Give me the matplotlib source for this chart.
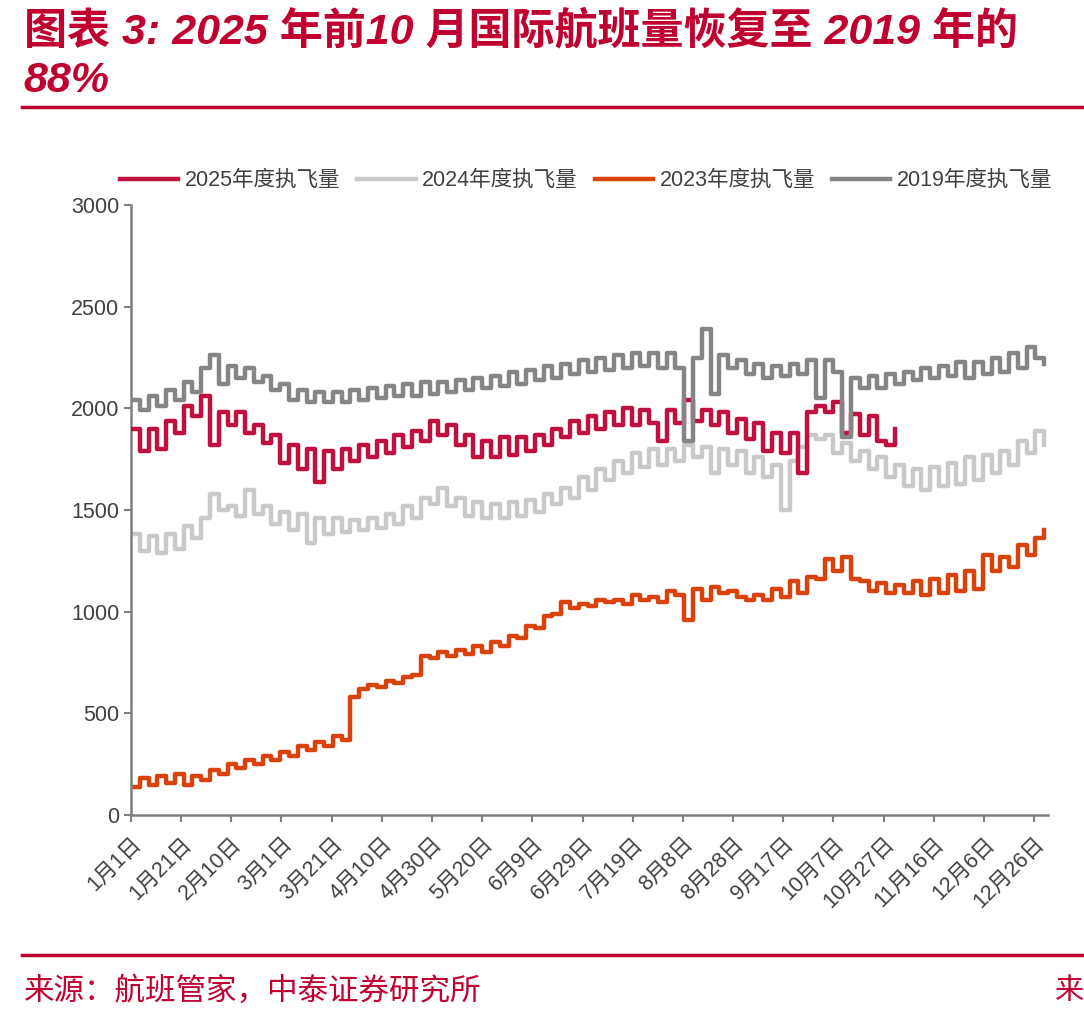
import numpy as np
import matplotlib
matplotlib.use("Agg")
import matplotlib.pyplot as plt

plt.rcParams['font.family'] = ['Liberation Sans', 'Noto Sans CJK SC', 'DejaVu Sans']

RED = '#C0002F'

# values read every 3.5 days from the chart
step = 3.5
y2025 = [1900, 1790, 1900, 1800, 1940, 1880, 2010, 1960, 2060, 1820,
         1980, 1920, 1980, 1880, 1920, 1830, 1870, 1730, 1820, 1700,
         1800, 1640, 1790, 1700, 1800, 1740, 1820, 1760, 1840, 1780,
         1870, 1810, 1890, 1840, 1940, 1870, 1920, 1820, 1870, 1760,
         1840, 1760, 1860, 1770, 1860, 1790, 1870, 1820, 1900, 1860,
         1940, 1880, 1960, 1900, 1980, 1920, 2000, 1920, 1990, 1930,
         1840, 1990, 1930, 2040, 1940, 1990, 1920, 1980, 1880, 1950,
         1850, 1930, 1790, 1880, 1780, 1880, 1680, 1980, 2010, 1980,
         2030, 1880, 1970, 1870, 1960, 1840, 1820, 1900]
y2024 = [1380, 1300, 1370, 1290, 1380, 1310, 1420, 1360, 1460, 1580,
         1500, 1520, 1470, 1600, 1480, 1520, 1430, 1490, 1400, 1480,
         1340, 1460, 1380, 1460, 1390, 1450, 1400, 1460, 1410, 1480,
         1430, 1520, 1460, 1560, 1530, 1610, 1520, 1560, 1470, 1540,
         1460, 1530, 1460, 1540, 1470, 1550, 1490, 1580, 1530, 1610,
         1560, 1660, 1600, 1700, 1650, 1740, 1680, 1780, 1710, 1800,
         1720, 1800, 1740, 1820, 1760, 1810, 1680, 1800, 1720, 1790,
         1680, 1760, 1660, 1720, 1500, 1740, 1810, 1870, 1850, 1870,
         1780, 1830, 1740, 1790, 1700, 1760, 1660, 1720, 1620, 1700,
         1600, 1710, 1620, 1730, 1630, 1760, 1650, 1770, 1680, 1790,
         1720, 1840, 1780, 1890, 1820]
y2023 = [140, 180, 150, 190, 160, 200, 150, 190, 170, 220,
         200, 250, 230, 270, 250, 290, 270, 310, 290, 340,
         320, 360, 340, 390, 370, 580, 620, 640, 630, 660,
         650, 680, 690, 780, 770, 800, 780, 810, 790, 830,
         800, 850, 830, 880, 870, 930, 920, 980, 990, 1050,
         1020, 1040, 1030, 1060, 1050, 1060, 1040, 1080, 1060, 1070,
         1050, 1100, 1080, 960, 1110, 1060, 1120, 1090, 1100, 1070,
         1060, 1080, 1060, 1110, 1070, 1150, 1090, 1170, 1160, 1260,
         1200, 1270, 1160, 1150, 1100, 1140, 1090, 1130, 1090, 1150,
         1080, 1160, 1090, 1180, 1100, 1200, 1110, 1280, 1200, 1270,
         1220, 1330, 1280, 1360, 1400]
y2019 = [2040, 1990, 2060, 2010, 2090, 2040, 2130, 2080, 2200, 2260,
         2120, 2210, 2150, 2200, 2130, 2160, 2090, 2120, 2040, 2090,
         2030, 2080, 2030, 2080, 2030, 2090, 2040, 2100, 2050, 2110,
         2060, 2120, 2060, 2130, 2070, 2130, 2080, 2140, 2090, 2150,
         2100, 2160, 2110, 2180, 2120, 2190, 2140, 2210, 2150, 2220,
         2170, 2240, 2180, 2250, 2190, 2260, 2200, 2270, 2210, 2270,
         2200, 2270, 2200, 1840, 2250, 2390, 2070, 2260, 2200, 2240,
         2170, 2220, 2150, 2210, 2160, 2220, 2170, 2240, 2050, 2240,
         2180, 1860, 2150, 2100, 2160, 2100, 2170, 2120, 2180, 2140,
         2200, 2150, 2210, 2160, 2230, 2150, 2230, 2170, 2250, 2180,
         2270, 2200, 2300, 2250, 2220]

series = [
    ('2025年度执飞量', y2025, '#C0103E', 3),
    ('2024年度执飞量', y2024, '#C9C9C9', 2),
    ('2023年度执飞量', y2023, '#D9420B', 2),
    ('2019年度执飞量', y2019, '#858585', 4),
]

tick_days = np.arange(0, 361, 20)
tick_labels = ['1月1日', '1月21日', '2月10日', '3月1日', '3月21日', '4月10日',
               '4月30日', '5月20日', '6月9日', '6月29日', '7月19日', '8月8日',
               '8月28日', '9月17日', '10月7日', '10月27日', '11月16日',
               '12月6日', '12月26日']

fig = plt.figure(figsize=(10.84, 10.22), dpi=100)
ax = fig.add_axes([0.1208, 0.2025, 0.8460, 0.5969])

for name, ys, color, z in series:
    xs = np.arange(len(ys)) * step
    ax.plot(xs, ys, color=color, lw=3.2, drawstyle='steps-post', label=name, zorder=z)

ax.set_xlim(0, 365.5)
ax.set_ylim(0, 3000)
ax.set_yticks(np.arange(0, 3001, 500))
ax.set_xticks(tick_days)
ax.set_xticklabels(tick_labels, rotation=45, ha='right', rotation_mode='anchor')
for s in ['top', 'right']:
    ax.spines[s].set_visible(False)
for s in ['left', 'bottom']:
    ax.spines[s].set_color('#7f7f7f')
    ax.spines[s].set_linewidth(1.8)
ax.tick_params(colors='#7f7f7f', width=1.5, length=5, labelsize=15.5, labelcolor='#404040')
ax.tick_params(axis='x', pad=8)

fig.legend(loc='center left', bbox_to_anchor=(0.093, 0.823), ncol=4, frameon=False,
           fontsize=15.5, handlelength=2.7, handletextpad=0.3, columnspacing=0.8,
           labelcolor='#404040')

fig.text(0.022, 0.99, '图表 3: 2025 年前10 月国际航班量恢复至 2019 年的\n88%',
         color=RED, fontsize=31, fontweight='bold', style='italic', va='top',
         linespacing=1.3)
fig.add_artist(plt.Line2D([0.02, 1.0], [0.895, 0.895], color=RED, lw=2.5))
fig.add_artist(plt.Line2D([0.02, 1.0], [0.066, 0.066], color=RED, lw=2.5))
fig.text(0.022, 0.03, '来源：航班管家，中泰证券研究所', color=RED, fontsize=22, va='center')
fig.text(0.999, 0.03, '来', color=RED, fontsize=21, va='center', ha='right')

fig.savefig('out.png', dpi=100)
